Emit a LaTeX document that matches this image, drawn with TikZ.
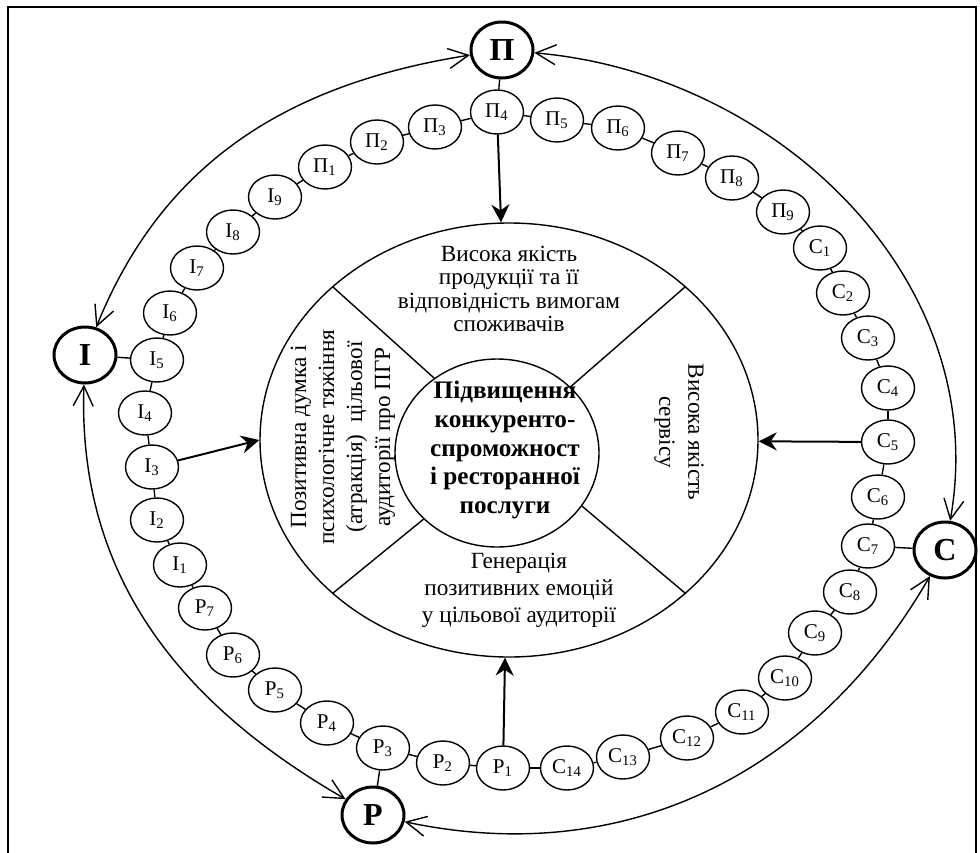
\documentclass[tikz,border=0pt]{standalone}
\usepackage{fontspec}
\setmainfont{Liberation Serif}
\usepackage{tikz}
\usetikzlibrary{positioning,arrows.meta,shapes.geometric}

\begin{document}
\begin{tikzpicture}[x=0.5pt,y=0.5pt,>={Stealth[length=9pt,width=9pt,inset=3pt]},
  small/.style={draw,ellipse,fill=white,line width=0.7pt,minimum width=26.5pt,minimum height=22pt,inner sep=0pt,font=\fontsize{10.5}{11}\selectfont},
  big/.style={draw,ellipse,fill=white,line width=1.5pt,minimum width=31pt,minimum height=28pt,inner sep=0pt,font=\fontsize{16}{17}\selectfont\bfseries},
  link/.style={line width=0.7pt},
  loopback/.style={line width=0.7pt,{Straight Barb[length=10pt,width=10pt]}-{Straight Barb[length=10pt,width=10pt]}},
  push/.style={->,line width=1pt},
  sector/.style={align=center,inner sep=0pt,font=\fontsize{11.6}{11.8}\selectfont}]
\useasboundingbox (0,0) rectangle (980,-852);
\draw[line width=1pt] (8,-860) -- (8,-7) -- (976,-7) -- (976,-860);
\node[draw,ellipse,line width=0.7pt,minimum width=249pt,minimum height=217pt] (main) at (509,-440) {};
\node[draw,ellipse,line width=0.7pt,minimum width=102pt,minimum height=94pt] (core) at (497,-453) {};
\draw[link] (core.130) -- (main.139);
\draw[link] (core.42) -- (main.41);
\draw[link] (core.222) -- (main.221);
\draw[link] (core.328) -- (main.319);
\node[align=center,inner sep=0pt,font=\fontsize{12.6}{14.4}\selectfont\bfseries] (goal) at (505,-450) {Підвищення\\конкуренто-\\спроможност\\і ресторанної\\послуги};
\node[sector] (quality) at (509,-289) {Висока якість\\продукції та її\\відповідність вимогам\\споживачів};
\node[sector,rotate=90,font=\fontsize{11.6}{14}\selectfont] (image) at (343,-437) {Позитивна думка і\\психологічне тяжіння\\(атракція)\ \ цільової\\аудиторії про ПГР};
\node[sector,rotate=-90,font=\fontsize{11.6}{14.5}\selectfont] (service) at (679,-432) {Висока якість\\сервісу};
\node[sector,font=\fontsize{11.6}{13.5}\selectfont] (emotion) at (519,-590) {Генерація\\позитивних емоцій\\у цільової аудиторії};

\node[big] (pp) at (502,-50) {П};
\node[big] (ii) at (85,-355) {І};
\node[big] (cc) at (945,-550) {С};
\node[big] (rr) at (373,-815) {Р};

\node[small] (p1) at (325,-167) {П\textsubscript{1}};
\node[small] (p2) at (377,-142) {П\textsubscript{2}};
\node[small] (p3) at (435,-127) {П\textsubscript{3}};
\node[small] (p4) at (497,-112) {П\textsubscript{4}};
\node[small] (p5) at (557,-120) {П\textsubscript{5}};
\node[small] (p6) at (618,-128) {П\textsubscript{6}};
\node[small] (p7) at (678,-153) {П\textsubscript{7}};
\node[small] (p8) at (732,-178) {П\textsubscript{8}};
\node[small] (p9) at (783,-212) {П\textsubscript{9}};
\node[small] (c1) at (820,-248) {С\textsubscript{1}};
\node[small] (c2) at (843,-293) {С\textsubscript{2}};
\node[small] (c3) at (868,-338) {С\textsubscript{3}};
\node[small] (c4) at (888,-388) {С\textsubscript{4}};
\node[small] (c5) at (888,-442) {С\textsubscript{5}};
\node[small] (c6) at (878,-497) {С\textsubscript{6}};
\node[small] (c7) at (868,-546) {С\textsubscript{7}};
\node[small] (c8) at (850,-592) {С\textsubscript{8}};
\node[small] (c9) at (815,-633) {С\textsubscript{9}};
\node[small] (c10) at (785,-678) {С\textsubscript{10}};
\node[small] (c11) at (742,-712) {С\textsubscript{11}};
\node[small] (c12) at (687,-738) {С\textsubscript{12}};
\node[small] (c13) at (623,-757) {С\textsubscript{13}};
\node[small] (c14) at (567,-768) {С\textsubscript{14}};
\node[small] (r1) at (503,-768) {Р\textsubscript{1}};
\node[small] (r2) at (443,-763) {Р\textsubscript{2}};
\node[small] (r3) at (383,-748) {Р\textsubscript{3}};
\node[small] (r4) at (327,-723) {Р\textsubscript{4}};
\node[small] (r5) at (275,-690) {Р\textsubscript{5}};
\node[small] (r6) at (233,-655) {Р\textsubscript{6}};
\node[small] (r7) at (205,-608) {Р\textsubscript{7}};
\node[small] (i1) at (180,-565) {І\textsubscript{1}};
\node[small] (i2) at (157,-520) {І\textsubscript{2}};
\node[small] (i3) at (152,-467) {І\textsubscript{3}};
\node[small] (i4) at (145,-413) {І\textsubscript{4}};
\node[small] (i5) at (157,-360) {І\textsubscript{5}};
\node[small] (i6) at (170,-313) {І\textsubscript{6}};
\node[small] (i7) at (197,-268) {І\textsubscript{7}};
\node[small] (i8) at (233,-232) {І\textsubscript{8}};
\node[small] (i9) at (275,-197) {І\textsubscript{9}};

\foreach \a/\b in {p1/p2,p2/p3,p3/p4,p4/p5,p5/p6,p6/p7,p7/p8,p8/p9,p9/c1,c1/c2,c2/c3,c3/c4,c4/c5,c5/c6,c6/c7,c7/c8,c8/c9,c9/c10,c10/c11,c11/c12,c12/c13,c13/c14,c14/r1,r1/r2,r2/r3,r3/r4,r4/r5,r5/r6,r6/r7,r7/i1,i1/i2,i2/i3,i3/i4,i4/i5,i5/i6,i6/i7,i7/i8,i8/i9,i9/p1,pp/p4,ii/i5,cc/c7,rr/r3}
  \draw[link] (\a) -- (\b);

\draw[push] (p4) -- (main);
\draw[push] (i3) -- (main.west);
\draw[push] (c5) -- (main);
\draw[push] (r1) -- (main);

\draw[loopback] (pp) to[out=189,in=68] (ii);
\draw[loopback] (pp) to[out=355,in=80] (cc);
\draw[loopback] (cc) to[out=240,in=348] (rr);
\draw[loopback] (ii) to[out=268,in=150] (rr);
\end{tikzpicture}
\end{document}
